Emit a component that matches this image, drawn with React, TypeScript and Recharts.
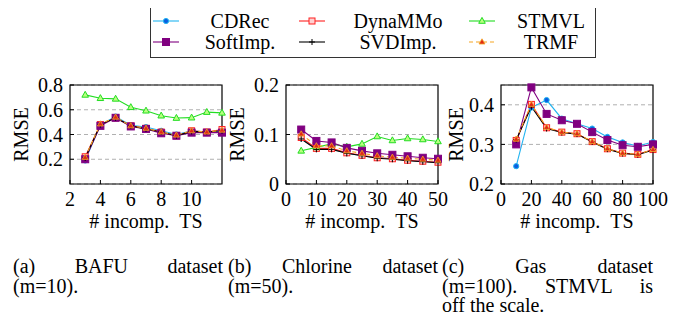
import React from "react";
import { LineChart, Line, XAxis, YAxis, CartesianGrid, ReferenceArea } from "recharts";

const FONT = "Liberation Serif";
const FS = 20;

// (a) BAFU, m=10
const bafuX = [3, 4, 5, 6, 7, 8, 9, 10, 11, 12];
const bafuCDRec = [0.19, 0.48, 0.545, 0.475, 0.46, 0.43, 0.4, 0.43, 0.42, 0.43];
const bafuDynaMMo = [0.22, 0.48, 0.535, 0.47, 0.45, 0.42, 0.39, 0.43, 0.42, 0.44];
const bafuSTMVL = [0.72, 0.693, 0.688, 0.62, 0.592, 0.552, 0.533, 0.536, 0.581, 0.575];
const bafuSoftImp = [0.2, 0.47, 0.535, 0.465, 0.445, 0.41, 0.39, 0.415, 0.415, 0.415];
const bafuSVDImp = [0.21, 0.48, 0.535, 0.47, 0.445, 0.42, 0.39, 0.425, 0.42, 0.43];
const bafuTRMF = [0.215, 0.485, 0.54, 0.47, 0.45, 0.42, 0.395, 0.43, 0.42, 0.435];

// (b) Chlorine, m=50
const chlX = [5, 10, 15, 20, 25, 30, 35, 40, 45, 50];
const chlCDRec = [0.092, 0.071, 0.071, 0.062, 0.057, 0.053, 0.051, 0.048, 0.046, 0.044];
const chlDynaMMo = [0.094, 0.072, 0.072, 0.063, 0.058, 0.053, 0.051, 0.048, 0.046, 0.044];
const chlSTMVL = [0.067, 0.074, 0.081, 0.075, 0.081, 0.096, 0.088, 0.092, 0.09, 0.086];
const chlSoftImp = [0.11, 0.087, 0.084, 0.073, 0.067, 0.062, 0.059, 0.056, 0.053, 0.051];
const chlSVDImp = [0.091, 0.07, 0.07, 0.062, 0.057, 0.052, 0.05, 0.047, 0.045, 0.043];
const chlTRMF = [0.101, 0.077, 0.077, 0.067, 0.062, 0.057, 0.054, 0.052, 0.05, 0.048];

// (c) Gas, m=100 (STMVL off the scale)
const gasX = [10, 20, 30, 40, 50, 60, 70, 80, 90, 100];
const gasCDRec = [0.245, 0.393, 0.412, 0.365, 0.352, 0.34, 0.319, 0.305, 0.296, 0.306];
const gasDynaMMo = [0.31, 0.401, 0.342, 0.331, 0.327, 0.307, 0.289, 0.278, 0.275, 0.287];
const gasSoftImp = [0.3, 0.444, 0.377, 0.361, 0.352, 0.331, 0.311, 0.298, 0.294, 0.3];
const gasSVDImp = [0.312, 0.395, 0.34, 0.33, 0.326, 0.306, 0.288, 0.277, 0.274, 0.286];
const gasTRMF = [0.313, 0.401, 0.343, 0.331, 0.327, 0.307, 0.289, 0.278, 0.275, 0.287];

const toRows = (xs: number[], cols: Record<string, number[]>) =>
  xs.map((x, i) => {
    const r: Record<string, number> = { x };
    for (const k in cols) r[k] = cols[k][i];
    return r;
  });

const bafuRows = toRows(bafuX, {
  CDRec: bafuCDRec, DynaMMo: bafuDynaMMo, STMVL: bafuSTMVL,
  SoftImp: bafuSoftImp, SVDImp: bafuSVDImp, TRMF: bafuTRMF,
});
const chlRows = toRows(chlX, {
  CDRec: chlCDRec, DynaMMo: chlDynaMMo, STMVL: chlSTMVL,
  SoftImp: chlSoftImp, SVDImp: chlSVDImp, TRMF: chlTRMF,
});
const gasRows = toRows(gasX, {
  CDRec: gasCDRec, DynaMMo: gasDynaMMo,
  SoftImp: gasSoftImp, SVDImp: gasSVDImp, TRMF: gasTRMF,
});

// markers
const circle = (cx: number, cy: number, k?: any) => (
  <circle key={k} cx={cx} cy={cy} r={2.6} fill="#0a5ee0" stroke="#22b4f0" strokeWidth={1} />
);
const openSquare = (cx: number, cy: number, k?: any) => (
  <rect key={k} x={cx - 3} y={cy - 3} width={6} height={6} fill="#ffd0d0" stroke="#ff2020" strokeWidth={1} />
);
const greenTri = (cx: number, cy: number, k?: any) => (
  <polygon key={k} points={`${cx},${cy - 3.6} ${cx - 3.3},${cy + 2.3} ${cx + 3.3},${cy + 2.3}`} fill="#b8ff80" stroke="#22dd22" strokeWidth={1} />
);
const purpleSquare = (cx: number, cy: number, k?: any) => (
  <rect key={k} x={cx - 3.5} y={cy - 3.5} width={7} height={7} fill="#800080" stroke="#800080" strokeWidth={1} />
);
const plus = (cx: number, cy: number, k?: any) => (
  <path key={k} d={`M${cx - 3},${cy}H${cx + 3}M${cx},${cy - 3}V${cy + 3}`} stroke="#000" strokeWidth={1} />
);
const redTri = (cx: number, cy: number, k?: any) => (
  <polygon key={k} points={`${cx},${cy - 3.2} ${cx - 3},${cy + 2} ${cx + 3},${cy + 2}`} fill="#e02818" stroke="#f5a623" strokeWidth={0.8} />
);

const series = [
  { key: "CDRec", label: "CDRec", color: "#22b4f0", dash: undefined, mark: circle },
  { key: "DynaMMo", label: "DynaMMo", color: "#ff2020", dash: undefined, mark: openSquare },
  { key: "STMVL", label: "STMVL", color: "#22dd22", dash: undefined, mark: greenTri },
  { key: "SoftImp", label: "SoftImp.", color: "#800080", dash: undefined, mark: purpleSquare },
  { key: "SVDImp", label: "SVDImp.", color: "#000000", dash: undefined, mark: plus },
  { key: "TRMF", label: "TRMF", color: "#f5a623", dash: "4 3", mark: redTri },
];

interface PanelProps {
  left: number;
  width: number;
  rows: Record<string, number>[];
  xDomain: [number, number];
  xTicks: number[];
  yDomain: [number, number];
  yTicks: number[];
  keys: string[];
  labelGap: number;
}

function Panel({ left, width, rows, xDomain, xTicks, yDomain, yTicks, keys, labelGap }: PanelProps) {
  return (
    <div style={{ position: "absolute", left, top: 0, fontFamily: FONT }}>
      <LineChart
        width={width}
        height={240}
        data={rows}
        margin={{ top: 85, right: width - 222, bottom: 0, left: 0 }}
      >
        <CartesianGrid vertical={false} stroke="#b0b0b0" strokeDasharray="4 3" />
        <XAxis
          dataKey="x"
          type="number"
          domain={xDomain}
          ticks={xTicks}
          interval={0}
          height={56}
          axisLine={false}
          tickSize={-4}
          tickMargin={12}
          tickLine={{ stroke: "#000" }}
          tick={{ fontSize: FS, fill: "#000", fontFamily: FONT }}
          label={(p: any) => (
            <text
              x={p.viewBox.x + p.viewBox.width / 2}
              y={p.viewBox.y + 44}
              textAnchor="middle"
              fontSize={FS}
              fontFamily={FONT}
              fill="#000"
            >
              {"#\u00a0incomp.\u00a0\u00a0TS"}
            </text>
          )}
        />
        <YAxis
          type="number"
          domain={yDomain}
          ticks={yTicks}
          interval={0}
          width={70}
          axisLine={false}
          tickSize={-4}
          tickMargin={11}
          tickLine={{ stroke: "#000" }}
          tick={{ fontSize: FS, fill: "#000", fontFamily: FONT }}
          label={(p: any) => {
            const cx = p.viewBox.x + p.viewBox.width - labelGap;
            const cy = p.viewBox.y + p.viewBox.height / 2;
            return (
              <text
                x={cx}
                y={cy}
                transform={`rotate(-90, ${cx}, ${cy})`}
                textAnchor="middle"
                dominantBaseline="central"
                fontSize={FS}
                fontFamily={FONT}
                fill="#000"
              >
                RMSE
              </text>
            );
          }}
        />
        <ReferenceArea
          x1={xDomain[0]}
          x2={xDomain[1]}
          y1={yDomain[0]}
          y2={yDomain[1]}
          fill="none"
          stroke="#000"
          strokeWidth={1.2}
          ifOverflow="visible"
        />
        {series
          .filter((s) => keys.includes(s.key))
          .map((s) => (
            <Line
              key={s.key}
              dataKey={s.key}
              stroke={s.color}
              strokeWidth={1.1}
              strokeDasharray={s.dash}
              dot={(p: any) => s.mark(p.cx, p.cy, `${s.key}-${p.index}`)}
              activeDot={false}
              isAnimationActive={false}
              type="linear"
            />
          ))}
      </LineChart>
    </div>
  );
}

const legendCols = [
  { marker: 166, text: 240 },
  { marker: 312, text: 398 },
  { marker: 482, text: 551 },
];

function LegendBox() {
  return (
    <>
      <div
        style={{
          position: "absolute",
          left: 150,
          top: 5,
          width: 444,
          height: 51,
          border: "1.3px solid #333",
        }}
      />
      {series.map((s, i) => {
        const col = legendCols[i % 3];
        const cy = i < 3 ? 21 : 42;
        return (
          <React.Fragment key={s.key}>
            <svg
              width={30}
              height={12}
              style={{ position: "absolute", left: col.marker - 15, top: cy - 6 }}
            >
              <line x1={2} x2={28} y1={6} y2={6} stroke={s.color} strokeWidth={1.1} strokeDasharray={s.dash} />
              {s.mark(15, 6)}
            </svg>
            <div
              style={{
                position: "absolute",
                left: col.text - 50,
                width: 100,
                top: cy - 9,
                height: 18,
                lineHeight: "18px",
                fontSize: FS,
                fontFamily: FONT,
                textAlign: "center",
              }}
            >
              {s.label}
            </div>
          </React.Fragment>
        );
      })}
    </>
  );
}

const captionLine = (text: string, left: number, width: number, top: number, justify: boolean, key: string) => (
  <div
    key={key}
    style={{
      position: "absolute",
      left,
      width,
      top,
      height: 17,
      fontSize: FS,
      fontFamily: FONT,
      lineHeight: "17px",
      textAlign: justify ? "justify" : "left",
      textAlignLast: justify ? "justify" : "left",
    }}
  >
    {text}
  </div>
);

export default function App() {
  return (
    <div
      style={{
        position: "relative",
        margin: -8,
        width: 688,
        height: 327,
        background: "#fff",
        fontFamily: FONT,
        overflow: "hidden",
      }}
    >
      <LegendBox />
      <Panel
        left={0}
        width={230}
        rows={bafuRows}
        xDomain={[2, 12]}
        xTicks={[2, 4, 6, 8, 10]}
        yDomain={[0, 0.8]}
        yTicks={[0.2, 0.4, 0.6, 0.8]}
        keys={["CDRec", "DynaMMo", "STMVL", "SoftImp", "SVDImp", "TRMF"]}
        labelGap={49}
      />
      <Panel
        left={216}
        width={232}
        rows={chlRows}
        xDomain={[0, 50]}
        xTicks={[0, 10, 20, 30, 40, 50]}
        yDomain={[0, 0.2]}
        yTicks={[0, 0.1, 0.2]}
        keys={["CDRec", "DynaMMo", "STMVL", "SoftImp", "SVDImp", "TRMF"]}
        labelGap={49}
      />
      <Panel
        left={431}
        width={250}
        rows={gasRows}
        xDomain={[0, 100]}
        xTicks={[0, 20, 40, 60, 80, 100]}
        yDomain={[0.2, 0.45]}
        yTicks={[0.2, 0.3, 0.4]}
        keys={["CDRec", "DynaMMo", "SoftImp", "SVDImp", "TRMF"]}
        labelGap={45}
      />
      {captionLine("(a) BAFU dataset", 13, 210, 258, true, "a1")}
      {captionLine("(m=10).", 13, 210, 278, false, "a2")}
      {captionLine("(b) Chlorine dataset", 228, 210, 258, true, "b1")}
      {captionLine("(m=50).", 228, 210, 278, false, "b2")}
      {captionLine("(c) Gas dataset", 442, 211, 258, true, "c1")}
      {captionLine("(m=100). STMVL is", 442, 211, 278, true, "c2")}
      {captionLine("off the scale.", 442, 211, 297, false, "c3")}
    </div>
  );
}
